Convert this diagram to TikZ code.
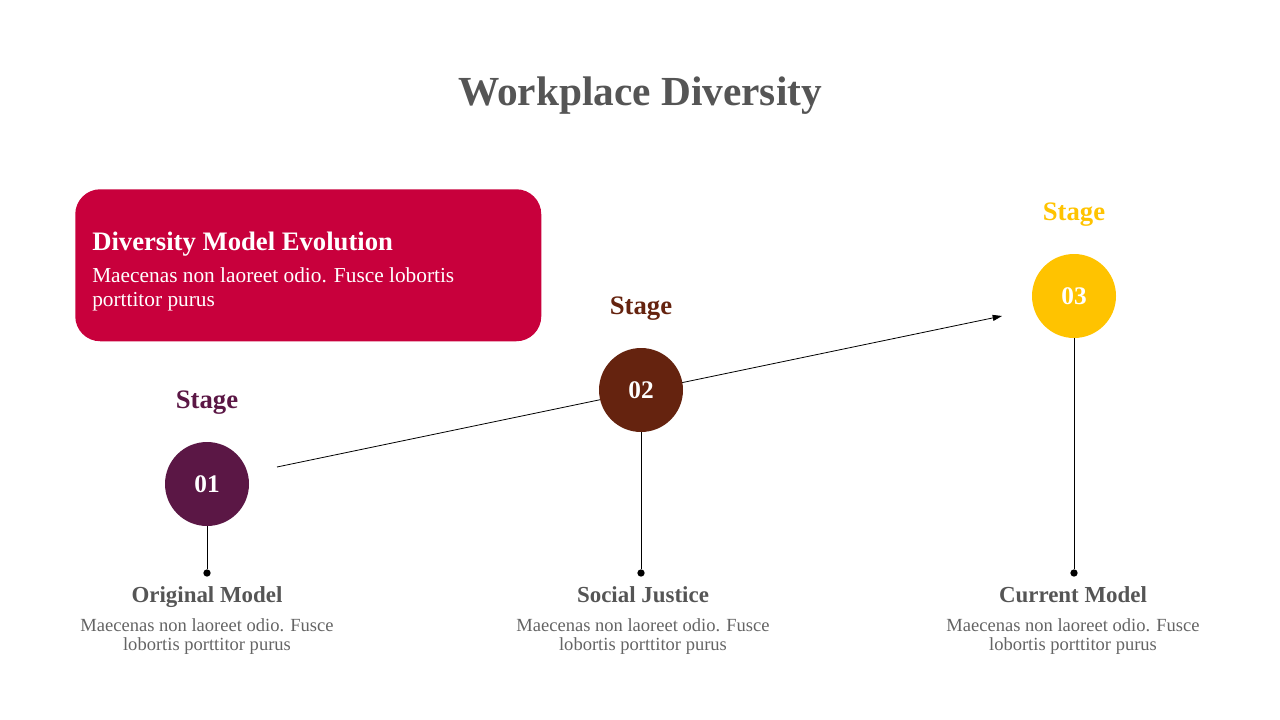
\documentclass[tikz,border=0pt]{standalone}
\usepackage{fontspec}
\setmainfont{Liberation Serif}
\usetikzlibrary{arrows.meta, positioning}
\definecolor{heading}{RGB}{85,85,85}
\definecolor{bodygray}{RGB}{100,100,100}
\definecolor{crimson}{RGB}{200,0,60}
\definecolor{plum}{RGB}{91,23,69}
\definecolor{rust}{RGB}{101,35,15}
\definecolor{amber}{RGB}{255,195,0}

\tikzset{
  stagedisc/.style={circle, minimum size=63pt, inner sep=0pt, fill=#1, text=white,
                    font=\fontsize{19}{22}\selectfont\bfseries},
  stagetag/.style={text=#1, font=\fontsize{20}{24}\selectfont\bfseries},
  pindot/.style={circle, fill=black, minimum size=5.5pt, inner sep=0pt},
  capthead/.style={text=heading, anchor=base, font=\fontsize{17.2}{20}\selectfont\bfseries},
  captbody/.style={text=bodygray, align=center, font=\fontsize{13.9}{14.3}\selectfont},
  stem/.style={black, line width=0.6pt}
}

\begin{document}
\begin{tikzpicture}[x=0.75pt, y=-0.75pt]
  \useasboundingbox (0,0) rectangle (1280,720);

  % title
  \node[text=heading, anchor=base, font=\fontsize{31}{36}\selectfont\bfseries] (title) at (640,106) {Workplace Diversity};

  % intro card
  \node[rounded corners=18.75pt, fill=crimson, minimum width=349.5pt, minimum height=114pt,
        anchor=north west] (card) at (75,189) {};
  \node[anchor=base west, inner sep=0pt, text=white, font=\fontsize{20}{24}\selectfont\bfseries]
    (cardhead) at (92,250) {Diversity Model Evolution};
  \node[anchor=north west, inner sep=0pt, text=white, align=left, font=\fontsize{16}{18}\selectfont]
    (cardtext) at (92,267) {Maecenas non laoreet odio. Fusce lobortis\\porttitor purus};

  % trend arrow
  \coordinate (trendstart) at (277,467);
  \coordinate (trendend) at (1002,316);
  \draw[line width=0.6pt, -{Triangle[length=7pt, width=4.5pt]}] (trendstart) -- (trendend);

  % stages
  \node[stagedisc=plum] (s1) at (207,484) {01};
  \node[stagedisc=rust] (s2) at (641,390) {02};
  \node[stagedisc=amber] (s3) at (1074,296) {03};

  \node[stagetag=plum, above=17pt of s1] (tag1) {Stage};
  \node[stagetag=rust, above=17pt of s2] (tag2) {Stage};
  \node[stagetag=amber, above=17pt of s3] (tag3) {Stage};

  \node[pindot] (d1) at (207,573) {};
  \node[pindot] (d2) at (641,573) {};
  \node[pindot] (d3) at (1074,573) {};
  \draw[stem] (s1) -- (d1);
  \draw[stem] (s2) -- (d2);
  \draw[stem] (s3) -- (d3);

  % captions
  \node[capthead] (head1) at (207,602) {Original Model};
  \node[capthead] (head2) at (643,602) {Social Justice};
  \node[capthead] (head3) at (1073,602) {Current Model};

  \node[captbody] (body1) at (207,637) {Maecenas non laoreet odio. Fusce\\lobortis porttitor purus};
  \node[captbody] (body2) at (643,637) {Maecenas non laoreet odio. Fusce\\lobortis porttitor purus};
  \node[captbody] (body3) at (1073,637) {Maecenas non laoreet odio. Fusce\\lobortis porttitor purus};
\end{tikzpicture}
\end{document}
